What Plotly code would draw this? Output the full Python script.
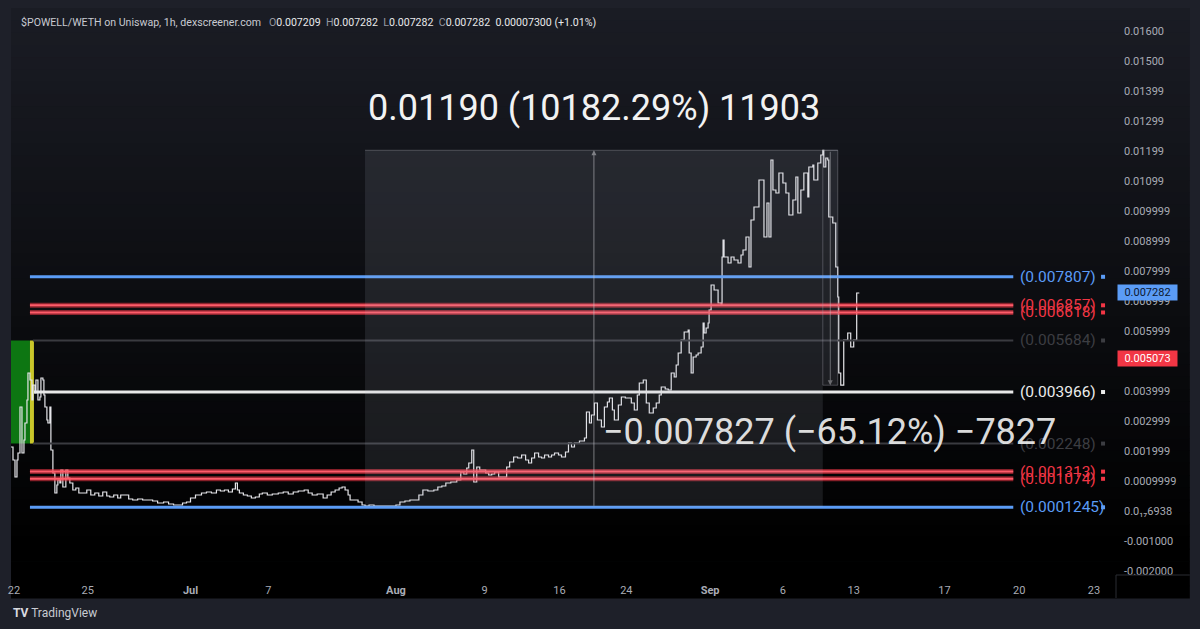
import plotly.graph_objects as go

# ---------------- data ----------------
bar = [8,10,12,14,15,17,19,21,22,24,25,27,29,30,32,33,35,37,38,40,41,42,44,45,47,48,50,52,54,55,57,58,60,63,65,67,70,73,76,80,84,88,92,96,100,104,107,111,115,118,122,126,130,135,140,145,150,155,161,166,171,176,180,184,188,193,199,204,209,214,218,222,226,230,233,235,237,241,245,249,253,257,260,265,270,276,281,286,291,296,302,306,310,315,321,325,329,333,337,340,343,346,348,352,356,360,363,367,372,377,383,388,394,398,403,408,413,417,421,426,432,436,440,444,449,455,459,462,465,467,470,472,475,478,480,484,487,490,493,497,500,503,505,508,512,516,520,524,527,530,533,537,540,543,547,550,553,557,560,564,567,570,573,578,583,585,588,590,593,596,600,603,606,608,611,613,617,620,624,627,630,633,636,638,642,645,648,652,655,658,660,664,667,670,673,675,677,680,683,687,688,690,692,695,697,700,702,703,705,707,708,710,713,717,720,721,722,723,727,730,733,737,740,742,745,748,750,753,757,758,762,763,766,768,770,772,775,778,782,785,788,792,795,797,800,803,807,808,812,813,817,820,822,823,825,827,828,832,835,837,838,840,843,847,850,853,856,858]
price = [0.002133,0.001700,0.001133,0.001700,0.001933,0.003467,0.001933,0.002367,0.002933,0.003700,0.004600,0.004367,0.003700,0.004200,0.003933,0.004367,0.003700,0.003800,0.004433,0.004367,0.003867,0.003467,0.003033,0.002933,0.003467,0.002033,0.001267,0.000600,0.000867,0.001033,0.000933,0.001367,0.000800,0.001367,0.001100,0.000933,0.000700,0.000767,0.000600,0.000600,0.000700,0.000533,0.000600,0.000500,0.000633,0.000500,0.000467,0.000533,0.000433,0.000533,0.000533,0.000400,0.000367,0.000400,0.000367,0.000367,0.000333,0.000267,0.000300,0.000233,0.000200,0.000200,0.000267,0.000300,0.000433,0.000533,0.000600,0.000633,0.000600,0.000700,0.000667,0.000700,0.000633,0.000733,0.000933,0.000700,0.000600,0.000533,0.000500,0.000433,0.000467,0.000567,0.000600,0.000533,0.000567,0.000600,0.000633,0.000567,0.000633,0.000667,0.000700,0.000600,0.000533,0.000567,0.000433,0.000533,0.000633,0.000700,0.000767,0.000800,0.000700,0.000533,0.000367,0.000367,0.000300,0.000200,0.000167,0.000200,0.000167,0.000167,0.000167,0.000167,0.000200,0.000300,0.000333,0.000367,0.000367,0.000533,0.000700,0.000667,0.000700,0.000800,0.000833,0.000933,0.000967,0.001033,0.001300,0.001233,0.001433,0.001600,0.002033,0.000967,0.001467,0.001367,0.001367,0.001267,0.001200,0.001233,0.001300,0.001133,0.001133,0.001133,0.001467,0.001633,0.001800,0.001767,0.001867,0.001700,0.001600,0.001767,0.001933,0.001800,0.001767,0.001867,0.001800,0.001867,0.001933,0.001867,0.001800,0.001967,0.002267,0.002133,0.002267,0.002333,0.002433,0.003300,0.002933,0.003200,0.003600,0.003033,0.002800,0.003467,0.003633,0.003767,0.003367,0.003033,0.003533,0.003800,0.003767,0.003767,0.003600,0.003367,0.003867,0.004267,0.004367,0.003600,0.003267,0.003433,0.003600,0.003867,0.004133,0.004067,0.004033,0.004600,0.004467,0.004867,0.005267,0.005700,0.005967,0.006033,0.005267,0.004600,0.005133,0.005200,0.005267,0.005467,0.006267,0.005933,0.006100,0.006267,0.006700,0.007533,0.007367,0.006933,0.006867,0.008467,0.009033,0.008467,0.008267,0.008467,0.008367,0.008267,0.008533,0.008700,0.009133,0.008133,0.009700,0.010133,0.010133,0.011033,0.011033,0.009133,0.010267,0.009133,0.011700,0.010700,0.010600,0.011267,0.010933,0.010600,0.009867,0.010367,0.011133,0.009933,0.010700,0.011267,0.010467,0.011467,0.011533,0.011033,0.011600,0.011867,0.012025,0.011467,0.011767,0.011700,0.009800,0.009600,0.008133,0.007133,0.004600,0.004193,0.005700,0.005933,0.005467,0.005700,0.007267,0.007282]

level_values = [0.007807, 0.006857, 0.006618, 0.005684, 0.003966, 0.002248, 0.001313, 0.001074, 0.0001245]
level_labels = ["(0.007807)", "(0.006857)", "(0.006618)", "(0.005684)", "(0.003966)", "(0.002248)", "(0.001313)", "(0.001074)", "(0.0001245)"]
level_kinds = ["blue", "red", "red", "gray", "white", "gray", "red", "red", "blue"]

y_tickvals = [0.016, 0.015, 0.014, 0.013, 0.012, 0.011, 0.010, 0.009, 0.008, 0.007, 0.006, 0.004, 0.003, 0.002, 0.001, 0.0, -0.001, -0.002]
y_ticktext = ["0.01600", "0.01500", "0.01399", "0.01299", "0.01199", "0.01099", "0.009999", "0.008999", "0.007999", "0.006999", "0.005999", "0.003999", "0.002999", "0.001999", "0.0009999", "0.0₁₇6938", "-0.001000", "-0.002000"]

x_tickvals = [11, 85, 188, 266, 394, 483, 558, 625, 709, 782, 853, 944, 1019, 1094]
x_ticktext = ["22", "25", "Jul", "7", "Aug", "9", "16", "24", "Sep", "6", "13", "17", "20", "23"]
month_labels = ["Jul", "Aug", "Sep"]

range_up = dict(start=363, end=822, low=0.0001245, high=0.0120245, text="0.01190 (10182.29%) 11903")
range_down = dict(start=822, end=837, low=0.004193, high=0.0120245, text="−0.007827 (−65.12%) −7827")

last_price = 0.007282
marker_price = 0.005073
zone_bars = (8, 27)
header_name = "$POWELL/WETH on Uniswap, 1h, dexscreener.com"
header_ohlc = [("O", "0.007209"), ("H", "0.007282"), ("L", "0.007282"), ("C", "0.007282")]
header_change = "0.00007300 (+1.01%)"

# ---------------- layout geometry (pixels) ----------------
W, H = 1200, 629
ML, MR, MT, MB = 8, 84, 8, 54
PW, PH = W - ML - MR, H - MT - MB
X_RANGE = [8, 1116]
Y_RANGE = [-0.002133, 0.016767]


def px(xp):
    return (xp - ML) / PW


def py(yp):
    return (H - MB - yp) / PH


COL = dict(blue="#5b9cf6", red="#f23645", gray="#3a3b40", white="#e8e8e8")
LBL = dict(blue="#5b9cf6", red="#f23645", gray="#3c3d42", white="#ececec")
FONT = "Roboto"

fig = go.Figure()
shapes = []
annotations = []

# background gradient (chart widget area)
N = 48
top_c = (26, 28, 36)
y_top, y_bot = 8, 598
for i in range(N):
    t = i / (N - 1)
    f = max(0.0, 1 - t * 1.08)
    c = tuple(int(round(v * f)) for v in top_c)
    ya = y_top + (y_bot - y_top) * i / N
    yb = y_top + (y_bot - y_top) * (i + 1) / N
    shapes.append(dict(type="rect", xref="paper", yref="paper", x0=px(8), x1=px(1190),
                       y0=py(yb) - 0.001, y1=py(ya), line=dict(width=0),
                       fillcolor="rgb(%d,%d,%d)" % c, layer="below"))

# panel separators
shapes.append(dict(type="line", xref="paper", yref="paper", x0=1, x1=px(1190), y0=0, y1=0,
                   line=dict(color="#2a2c33", width=1), layer="above"))
shapes.append(dict(type="line", xref="paper", yref="paper", x0=1, x1=1, y0=py(598), y1=0,
                   line=dict(color="#2a2c33", width=1), layer="above"))

# green / yellow zone at the start
shapes.append(dict(type="rect", xref="x", yref="y", x0=zone_bars[0], x1=zone_bars[1],
                   y0=level_values[5], y1=level_values[3], line=dict(width=0),
                   fillcolor="#0d7612", layer="below"))
shapes.append(dict(type="rect", xref="x", yref="y", x0=zone_bars[1], x1=zone_bars[1] + 4,
                   y0=level_values[5], y1=level_values[3], line=dict(width=0),
                   fillcolor="#c9c62a", layer="below"))

# horizontal levels
for v, k in zip(level_values, level_kinds):
    if k == "red":
        shapes.append(dict(type="line", xref="x", yref="y", x0=27, x1=1013, y0=v, y1=v,
                           line=dict(color="rgba(242,54,69,0.55)", width=5), layer="above"))
        shapes.append(dict(type="line", xref="x", yref="y", x0=27, x1=1013, y0=v, y1=v,
                           line=dict(color="#ff5c6a", width=2), layer="above"))
    elif k == "gray":
        shapes.append(dict(type="line", xref="x", yref="y", x0=30, x1=1013, y0=v, y1=v,
                           line=dict(color=COL[k], width=2), layer="above"))
    else:
        shapes.append(dict(type="line", xref="x", yref="y", x0=27 if k == "blue" else 31, x1=1013, y0=v, y1=v,
                           line=dict(color=COL[k], width=3), layer="above"))

# range measurement boxes (drawn over the series)
shapes.append(dict(type="rect", xref="x", yref="y", x0=range_up["start"], x1=range_up["end"],
                   y0=range_up["low"], y1=range_up["high"], line=dict(width=0),
                   fillcolor="rgba(185,190,205,0.12)", layer="above"))
shapes.append(dict(type="rect", xref="x", yref="y", x0=range_down["start"], x1=range_down["end"],
                   y0=range_down["low"], y1=range_down["high"],
                   line=dict(width=1, color="rgba(170,170,180,0.35)"),
                   fillcolor="rgba(185,190,205,0.12)", layer="above"))
shapes.append(dict(type="line", xref="x", yref="y", x0=range_up["start"], x1=range_down["end"],
                   y0=range_up["high"], y1=range_up["high"],
                   line=dict(width=1, color="rgba(170,170,180,0.35)"), layer="above"))

# price line
fig.add_trace(go.Scatter(x=bar, y=price, mode="lines", line=dict(color="#e6e6ea", width=1.2, shape="hv"),
                         hoverinfo="skip", showlegend=False))

# small markers next to level labels
fig.add_trace(go.Scatter(x=[1103] * len(level_values), y=level_values, mode="markers",
                         marker=dict(symbol="square", size=4, color=[LBL[k] for k in level_kinds]),
                         hoverinfo="skip", showlegend=False))

# level labels
for v, t, k in zip(level_values, level_labels, level_kinds):
    annotations.append(dict(x=1018, y=v, xref="x", yref="y", text=t, showarrow=False,
                            xanchor="left", yanchor="middle",
                            font=dict(family=FONT, size=15.5, color=LBL[k])))

# arrows inside measurement boxes
mid_up = (range_up["start"] + range_up["end"]) / 2
annotations.append(dict(x=mid_up, y=range_up["high"], ax=mid_up, ay=range_up["low"],
                        xref="x", yref="y", axref="x", ayref="y", text="", showarrow=True,
                        arrowhead=2, arrowsize=1, arrowwidth=1, arrowcolor="rgba(200,200,205,0.55)"))
mid_dn = (range_down["start"] + range_down["end"]) / 2
annotations.append(dict(x=mid_dn, y=range_down["low"], ax=mid_dn, ay=range_down["high"],
                        xref="x", yref="y", axref="x", ayref="y", text="", showarrow=True,
                        arrowhead=2, arrowsize=1, arrowwidth=1, arrowcolor="rgba(200,200,205,0.45)"))

# big measurement texts
annotations.append(dict(x=mid_up, y=py(108), xref="x", yref="paper", text=range_up["text"],
                        showarrow=False, xanchor="center", yanchor="middle",
                        font=dict(family=FONT, size=36, color="#f2f2f2")))
annotations.append(dict(x=829, y=py(432), xref="x", yref="paper", text=range_down["text"],
                        showarrow=False, xanchor="center", yanchor="middle",
                        font=dict(family=FONT, size=36, color="rgba(240,240,240,0.92)")))

# price scale badges
annotations.append(dict(x=1, xref="paper", xanchor="left", xshift=1, y=last_price, yref="y",
                        text=f"{last_price:.6f}", showarrow=False, bgcolor=COL["blue"], borderpad=1,
                        font=dict(family=FONT, size=11, color="#0c1830"), width=57))
annotations.append(dict(x=1, xref="paper", xanchor="left", xshift=1, y=marker_price, yref="y",
                        text=f"{marker_price:.6f}", showarrow=False, bgcolor=COL["red"], borderpad=1,
                        font=dict(family=FONT, size=11, color="#ffffff"), width=57))

# header
hdr = f'<span style="color:#c8cad1">{header_name}</span>  '
for k, v in header_ohlc:
    hdr += f' <span style="color:#9598a1">{k}</span><span style="color:#e8e8ea">{v}</span> '
hdr += f' <span style="color:#e8e8ea">{header_change}</span>'
annotations.append(dict(x=px(16), y=py(22), xref="paper", yref="paper", text=hdr, showarrow=False,
                        xanchor="left", yanchor="middle", font=dict(family=FONT, size=10.6)))

# footer brand
annotations.append(dict(x=px(8), y=py(613), xref="paper", yref="paper",
                        text='<b>TV</b> <span style="color:#c9cbd2">TradingView</span>', showarrow=False,
                        xanchor="left", yanchor="middle", font=dict(family=FONT, size=12, color="#d9dbe0")))

tick_text_styled = [f"<b>{t}</b>" if t in month_labels else t for t in x_ticktext]

fig.update_layout(
    width=W, height=H,
    margin=dict(l=ML, r=MR, t=MT, b=MB, pad=0),
    paper_bgcolor="#1e2029",
    plot_bgcolor="rgba(0,0,0,0)",
    shapes=shapes,
    annotations=annotations,
    showlegend=False,
    xaxis=dict(range=X_RANGE, showgrid=False, zeroline=False, showline=False,
               tickmode="array", tickvals=x_tickvals, ticktext=tick_text_styled,
               ticks="", ticklabelstandoff=7,
               tickfont=dict(family=FONT, size=11, color="#a9acb5"), fixedrange=True),
    yaxis=dict(range=Y_RANGE, side="right", showgrid=False, zeroline=False, showline=False,
               tickmode="array", tickvals=y_tickvals, ticktext=y_ticktext,
               ticks="", ticklabelstandoff=7,
               tickfont=dict(family=FONT, size=11, color="#a9acb5"), fixedrange=True),
)

fig.write_html("out.html")
